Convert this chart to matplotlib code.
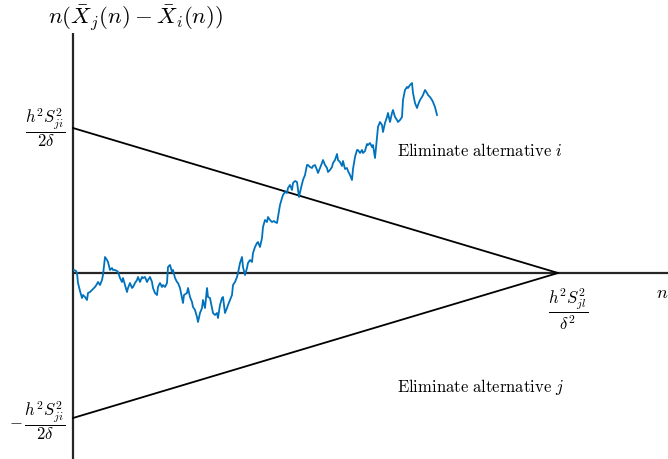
import matplotlib
matplotlib.use("Agg")
import matplotlib.pyplot as plt
import numpy as np

plt.rcParams['mathtext.fontset'] = 'cm'
plt.rcParams['font.family'] = 'serif'
plt.rcParams['font.serif'] = ['cmr10', 'DejaVu Serif']

# random walk n*(Xj(n)-Xi(n))
walk_n = [1, 3, 4, 5, 7, 9, 10, 12, 14, 15, 17, 19, 21, 22, 24, 25, 27, 29, 30, 32, 34, 35, 37, 39, 40, 42, 44, 45,
          47, 49, 50, 52, 54, 55, 57, 59, 60, 62, 64, 65, 67, 69, 70, 72, 74, 75, 77, 79, 80, 82, 84, 85, 87, 89, 90,
          92, 94, 95, 97, 99, 100, 102, 104, 105, 107, 109, 110, 111, 114, 115, 117, 119, 120, 122, 124, 125, 127,
          129, 130, 132, 134, 135, 137, 139, 140, 142, 144, 145, 147, 149, 150, 152, 154, 155, 157, 159, 160, 162,
          164, 165, 167, 169, 170, 172, 174, 175, 177, 179, 180, 182, 184, 185, 187, 189, 190, 192, 194, 195, 197,
          199, 201, 202, 204, 205, 207, 209, 210, 212, 214, 215, 217, 219, 220, 222, 224, 226, 228, 230, 232, 234,
          235, 237, 239, 240, 242, 244, 245, 247, 249, 250, 252, 254, 255, 257, 259, 260, 262, 264, 265, 267, 269,
          270, 272, 274, 275, 277, 279, 280, 282, 284, 285, 287, 289, 290, 292, 294, 295, 297, 299, 300, 302, 304,
          305, 307, 309, 310, 312, 314, 315, 317, 319, 320, 322, 324, 325, 327, 329, 330, 332, 334, 335, 337, 339,
          340, 342, 344, 345, 347, 349, 350, 352, 354, 355, 357, 359, 360, 362, 364]
walk_d = [3, 2, 0, -10, -18, -25, -22, -24, -27, -20, -19, -17, -15, -14, -11, -9, -12, -7, -2, 16, 13, 11, 3, 5, 3,
          3, 2, 1, -5, -9, -5, -12, -19, -15, -10, -15, -14, -10, -7, -4, -9, -4, -5, -4, -9, -7, -4, -9, -15, -20,
          -22, -14, -10, -14, -12, -14, -10, 6, 8, 1, 3, -5, -9, -10, -15, -25, -30, -22, -20, -15, -24, -29, -34,
          -37, -44, -49, -40, -35, -27, -35, -15, -24, -25, -35, -40, -42, -40, -45, -32, -25, -24, -40, -35, -32,
          -27, -22, -12, -9, -4, 0, 10, 16, 6, -2, 5, 10, 13, 11, 20, 26, 30, 31, 26, 35, 46, 53, 51, 56, 53, 51,
          52, 51, 50, 56, 68, 75, 78, 81, 80, 85, 88, 83, 90, 92, 91, 76, 85, 93, 98, 108, 108, 106, 105, 107, 108,
          103, 100, 105, 110, 113, 108, 105, 101, 103, 106, 110, 113, 119, 113, 111, 107, 112, 104, 105, 102, 98,
          93, 104, 116, 123, 123, 120, 123, 120, 122, 129, 128, 130, 126, 128, 115, 136, 146, 151, 148, 141, 150,
          156, 160, 151, 160, 163, 156, 153, 151, 153, 156, 173, 183, 186, 185, 188, 190, 180, 170, 165, 168, 173,
          176, 178, 183, 180, 178, 176, 173, 171, 166, 158]

threshold = 145   # h^2 S^2_ji / (2 delta)
n_end = 485       # h^2 S^2_jl / delta^2

fig = plt.figure(figsize=(6.68, 4.59), dpi=100)
ax = fig.add_axes([0, 0, 1, 1])
ax.set_xlim(-73, 595)
ax.set_ylim(-186, 273)
ax.axis('off')

# axes lines
ax.plot([0, 0], [-186, 240], color='#262626', lw=1.6, solid_capstyle='butt')
ax.plot([0, 595], [0, 0], color='#262626', lw=1.6, solid_capstyle='butt')

# triangle boundaries
ax.plot([0, n_end], [threshold, 0], color='black', lw=1.3)
ax.plot([0, n_end], [-threshold, 0], color='black', lw=1.3)

ax.plot(walk_n, walk_d, color='#0072BD', lw=1.3)

fs = 12
ax.text(63, 255, r'$n(\bar{X}_j(n)-\bar{X}_i(n))$', fontsize=16.5, ha='center', va='center')
ax.text(-28, threshold, r'$\dfrac{h^2S^2_{ji}}{2\delta}$', fontsize=fs, ha='center', va='center')
ax.text(-36, -threshold - 3, r'$-\,\dfrac{h^2S^2_{ji}}{2\delta}$', fontsize=fs, ha='center', va='center')
ax.text(495, -36, r'$\dfrac{h^2S^2_{jl}}{\delta^2}$', fontsize=fs, ha='center', va='center')
ax.text(589, -20, r'$n$', fontsize=fs + 1, ha='center', va='center')
ax.text(324, 122, r'$\mathrm{Eliminate\ alternative}\ i$', fontsize=fs, ha='left', va='center')
ax.text(324, -114, r'$\mathrm{Eliminate\ alternative}\ j$', fontsize=fs, ha='left', va='center')

fig.savefig('out.png', dpi=100)
